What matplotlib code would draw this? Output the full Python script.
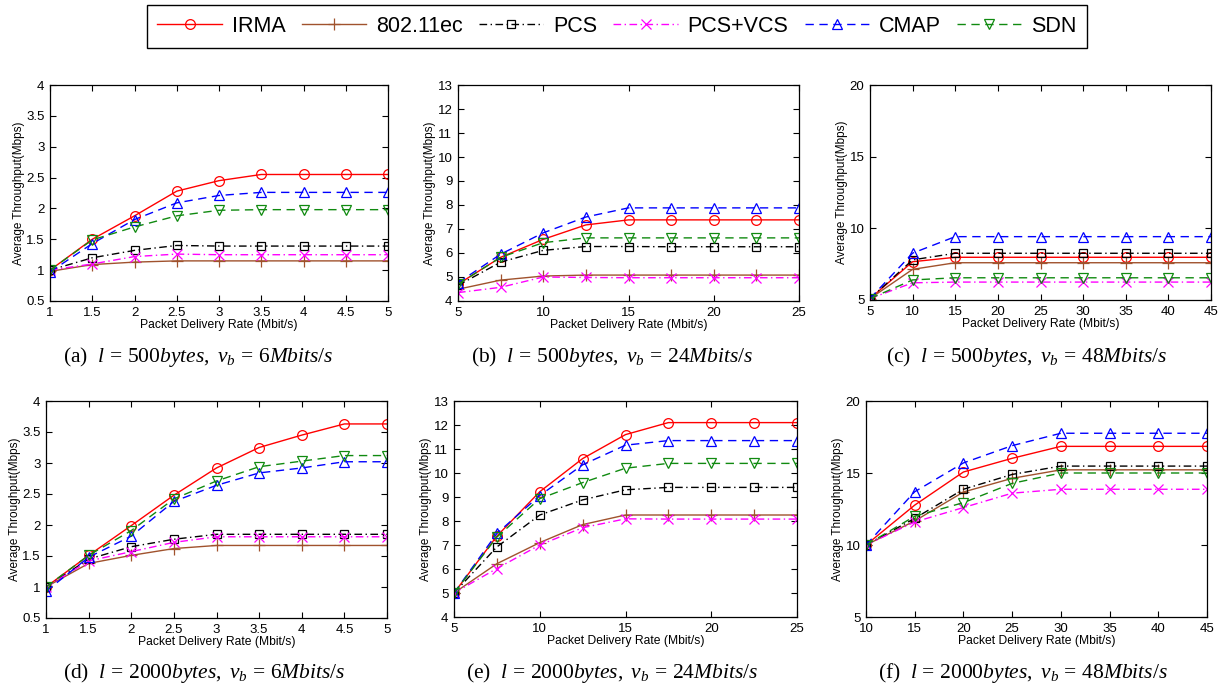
import matplotlib
matplotlib.use('Agg')
import matplotlib.pyplot as plt
from matplotlib.ticker import FormatStrFormatter

plt.rcParams['font.family'] = ['Liberation Sans', 'DejaVu Sans']
plt.rcParams['mathtext.fontset'] = 'custom'
plt.rcParams['mathtext.rm'] = 'Liberation Serif'
plt.rcParams['mathtext.it'] = 'Liberation Serif:italic'

series_names = ['IRMA', '802.11ec', 'PCS', 'PCS+VCS', 'CMAP', 'SDN']

# (a) l = 500 bytes, vb = 6 Mbit/s
x_a = [1, 1.5, 2, 2.5, 3, 3.5, 4, 4.5, 5]
irma_a = [1.0, 1.50, 1.88, 2.28, 2.45, 2.55, 2.55, 2.55, 2.55]
ec_a = [0.98, 1.09, 1.13, 1.15, 1.15, 1.15, 1.15, 1.15, 1.15]
pcs_a = [1.0, 1.20, 1.32, 1.40, 1.39, 1.39, 1.39, 1.39, 1.39]
vcs_a = [1.0, 1.10, 1.22, 1.26, 1.25, 1.25, 1.25, 1.25, 1.25]
cmap_a = [0.97, 1.43, 1.82, 2.09, 2.21, 2.26, 2.26, 2.26, 2.26]
sdn_a = [1.0, 1.49, 1.70, 1.88, 1.97, 1.98, 1.98, 1.98, 1.98]

# (b) l = 500 bytes, vb = 24 Mbit/s
x_b = [5, 7.5, 10, 12.5, 15, 17.5, 20, 22.5, 25]
irma_b = [4.70, 5.82, 6.57, 7.17, 7.38, 7.38, 7.38, 7.38, 7.38]
ec_b = [4.49, 4.87, 5.04, 5.08, 5.08, 5.08, 5.08, 5.08, 5.08]
pcs_b = [4.65, 5.62, 6.11, 6.27, 6.27, 6.26, 6.26, 6.26, 6.26]
vcs_b = [4.35, 4.57, 5.00, 4.98, 4.97, 4.97, 4.97, 4.97, 4.97]
cmap_b = [4.76, 5.95, 6.84, 7.50, 7.88, 7.88, 7.88, 7.88, 7.88]
sdn_b = [4.70, 5.82, 6.43, 6.63, 6.63, 6.63, 6.63, 6.63, 6.63]

# (c) l = 500 bytes, vb = 48 Mbit/s
x_c = [5, 10, 15, 20, 25, 30, 35, 40, 45]
irma_c = [5.1, 7.67, 7.98, 7.98, 7.98, 7.98, 7.98, 7.98, 7.98]
ec_c = [5.1, 7.14, 7.60, 7.60, 7.60, 7.60, 7.60, 7.60, 7.60]
pcs_c = [5.1, 7.80, 8.26, 8.26, 8.26, 8.26, 8.26, 8.26, 8.26]
vcs_c = [5.1, 6.20, 6.25, 6.25, 6.25, 6.25, 6.25, 6.25, 6.25]
cmap_c = [5.1, 8.27, 9.42, 9.42, 9.42, 9.42, 9.42, 9.42, 9.42]
sdn_c = [5.1, 6.40, 6.55, 6.55, 6.55, 6.55, 6.55, 6.55, 6.55]

# (d) l = 2000 bytes, vb = 6 Mbit/s
x_d = [1, 1.5, 2, 2.5, 3, 3.5, 4, 4.5, 5]
irma_d = [1.0, 1.51, 1.99, 2.48, 2.92, 3.25, 3.45, 3.63, 3.63]
ec_d = [1.0, 1.38, 1.51, 1.62, 1.67, 1.67, 1.67, 1.67, 1.67]
pcs_d = [1.0, 1.45, 1.65, 1.77, 1.85, 1.85, 1.85, 1.85, 1.85]
vcs_d = [1.0, 1.42, 1.57, 1.72, 1.81, 1.81, 1.81, 1.81, 1.81]
cmap_d = [0.93, 1.48, 1.82, 2.38, 2.64, 2.84, 2.92, 3.02, 3.02]
sdn_d = [1.0, 1.51, 1.91, 2.42, 2.71, 2.94, 3.03, 3.12, 3.12]

# (e) l = 2000 bytes, vb = 24 Mbit/s
x_e = [5, 7.5, 10, 12.5, 15, 17.5, 20, 22.5, 25]
irma_e = [5.0, 7.37, 9.22, 10.60, 11.60, 12.10, 12.10, 12.10, 12.10]
ec_e = [5.0, 6.22, 7.10, 7.85, 8.25, 8.25, 8.25, 8.25, 8.25]
pcs_e = [5.0, 6.92, 8.25, 8.88, 9.30, 9.40, 9.40, 9.40, 9.40]
vcs_e = [5.0, 6.02, 7.00, 7.72, 8.09, 8.08, 8.08, 8.08, 8.08]
cmap_e = [5.0, 7.48, 9.06, 10.34, 11.16, 11.35, 11.35, 11.35, 11.35]
sdn_e = [5.0, 7.33, 8.93, 9.60, 10.20, 10.40, 10.40, 10.40, 10.40]

# (f) l = 2000 bytes, vb = 48 Mbit/s
x_f = [10, 15, 20, 25, 30, 35, 40, 45]
irma_f = [10.0, 12.77, 15.07, 16.02, 16.85, 16.85, 16.85, 16.85]
ec_f = [10.0, 11.67, 13.68, 14.63, 15.22, 15.22, 15.22, 15.22]
pcs_f = [10.0, 11.85, 13.87, 14.90, 15.48, 15.48, 15.48, 15.48]
vcs_f = [10.0, 11.60, 12.60, 13.60, 13.87, 13.87, 13.87, 13.87]
cmap_f = [10.0, 13.70, 15.70, 16.90, 17.76, 17.76, 17.76, 17.76]
sdn_f = [10.0, 12.00, 12.94, 14.28, 15.00, 15.00, 15.00, 15.00]

captions = [
    r"(a)  $l\, = \,500bytes,\ v_b\, = \,6Mbits/s$",
    r"(b)  $l\, = \,500bytes,\ v_b\, = \,24Mbits/s$",
    r"(c)  $l\, = \,500bytes,\ v_b\, = \,48Mbits/s$",
    r"(d)  $l\, = \,2000bytes,\ v_b\, = \,6Mbits/s$",
    r"(e)  $l\, = \,2000bytes,\ v_b\, = \,24Mbits/s$",
    r"(f)  $l\, = \,2000bytes,\ v_b\, = \,48Mbits/s$",
]

panels = [
    (x_a, [irma_a, ec_a, pcs_a, vcs_a, cmap_a, sdn_a]),
    (x_b, [irma_b, ec_b, pcs_b, vcs_b, cmap_b, sdn_b]),
    (x_c, [irma_c, ec_c, pcs_c, vcs_c, cmap_c, sdn_c]),
    (x_d, [irma_d, ec_d, pcs_d, vcs_d, cmap_d, sdn_d]),
    (x_e, [irma_e, ec_e, pcs_e, vcs_e, cmap_e, sdn_e]),
    (x_f, [irma_f, ec_f, pcs_f, vcs_f, cmap_f, sdn_f]),
]

# axis ranges and ticks per panel
xlims = [(1, 5), (5, 25), (5, 45), (1, 5), (5, 25), (10, 45)]
xticks = [
    [1, 1.5, 2, 2.5, 3, 3.5, 4, 4.5, 5],
    [5, 10, 15, 20, 25],
    [5, 10, 15, 20, 25, 30, 35, 40, 45],
    [1, 1.5, 2, 2.5, 3, 3.5, 4, 4.5, 5],
    [5, 10, 15, 20, 25],
    [10, 15, 20, 25, 30, 35, 40, 45],
]
ylims = [(0.5, 4), (4, 13), (5, 20), (0.5, 4), (4, 13), (5, 20)]
yticks = [
    [0.5, 1, 1.5, 2, 2.5, 3, 3.5, 4],
    list(range(4, 14)),
    [5, 10, 15, 20],
    [0.5, 1, 1.5, 2, 2.5, 3, 3.5, 4],
    list(range(4, 14)),
    [5, 10, 15, 20],
]

# line styles (MATLAB-like)
DASH = (0, (6, 4))
DASHDOT = (0, (5.5, 2.5, 1, 2.5))
styles = [
    dict(color='#ff0000', linestyle='-', marker='o'),
    dict(color='#a0522d', linestyle='-', marker='+'),
    dict(color='#000000', linestyle=DASHDOT, marker='s'),
    dict(color='#ff00ff', linestyle=DASHDOT, marker='x'),
    dict(color='#0000ff', linestyle=DASH, marker='^'),
    dict(color='#108a10', linestyle=DASH, marker='v'),
]
marker_sizes = [7, 8, 6, 6.5, 7.5, 7.5]

W, H = 1222, 686
# axes boxes in pixels: left, top, right, bottom
boxes = [
    (50, 85, 388, 301),
    (458, 85, 799, 301),
    (870, 85, 1211, 300),
    (46, 401, 387, 618),
    (454, 401, 797, 617),
    (866, 401, 1207, 617),
]
caption_pos = [(198, 357), (612, 357), (1027, 357),
               (204, 673), (612, 673), (1023, 673)]

fig = plt.figure(figsize=(W / 100, H / 100), dpi=100)

handles = []
for i, (x, ys) in enumerate(panels):
    l, t, r, b = boxes[i]
    ax = fig.add_axes([l / W, 1 - b / H, (r - l) / W, (b - t) / H])
    for k, y in enumerate(ys):
        st = styles[k]
        line, = ax.plot(x, y, linewidth=1.0, markersize=marker_sizes[k],
                        markerfacecolor='none', markeredgewidth=0.9,
                        label=series_names[k], **st)
        if i == 0:
            handles.append(line)
    ax.set_xlim(*xlims[i])
    ax.set_ylim(*ylims[i])
    ax.set_xticks(xticks[i])
    ax.set_yticks(yticks[i])
    ax.xaxis.set_major_formatter(FormatStrFormatter('%g'))
    ax.yaxis.set_major_formatter(FormatStrFormatter('%g'))
    ax.tick_params(direction='in', top=True, right=True, length=4,
                   width=0.8, labelsize=9.5)
    ax.tick_params(axis='x', pad=4.5)
    ax.tick_params(axis='y', pad=4)
    for sp in ax.spines.values():
        sp.set_linewidth(0.9)
    ax.set_xlabel('Packet Delivery Rate (Mbit/s)', fontsize=8.7, labelpad=0)
    ax.set_ylabel('Average Throughput(Mbps)', fontsize=8.5, labelpad=1)
    cx, cy = caption_pos[i]
    fig.text(cx / W, 1 - cy / H, captions[i], ha='center', va='center',
             fontsize=15.5, family='Liberation Serif')

leg = fig.legend(handles=handles, loc='center', bbox_to_anchor=(617 / W, 1 - 26.5 / H),
                 ncol=6, fontsize=15.5, frameon=True, fancybox=False,
                 edgecolor='black', framealpha=1, handlelength=3.0,
                 handletextpad=0.45, columnspacing=0.75, borderpad=0.5,
                 numpoints=1)
leg.get_frame().set_linewidth(1.0)

fig.savefig('out.png', dpi=100)
